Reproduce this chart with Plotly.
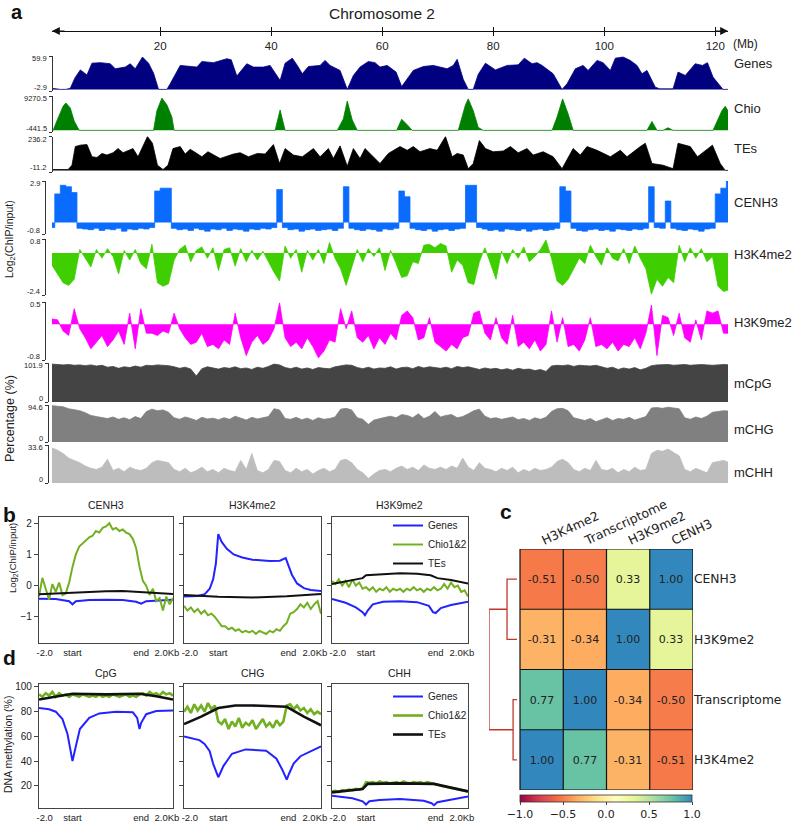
import numpy as np
import plotly.graph_objects as go

W, H = 796, 827
def fx(px): return px / W
def fy(py): return 1 - py / H

# ================= panel a : chromosome 2 tracks =================
genes_pos = [0.5, 1.2, 2.0, 3.0, 3.8, 4.6, 5.6, 6.8, 7.7, 9.2,
             11.0, 11.9, 13.7, 14.6, 15.5, 16.8, 17.9, 18.8, 19.7, 21.2,
             21.8, 23.6, 26.6, 27.5, 29.6, 32.0, 32.8, 33.8, 35.6, 36.8,
             38.6, 39.8, 41.6, 42.5, 43.8, 44.7, 45.6, 46.7, 48.8, 49.7,
             50.6, 52.4, 53.7, 54.8, 56.0, 57.5, 58.7, 59.6, 60.9, 62.5,
             63.5, 65.6, 67.4, 69.2, 71.7, 72.8, 73.5, 74.6, 75.5, 76.4,
             77.3, 78.6, 80.4, 82.5, 84.5, 85.6, 87.0, 87.9, 88.8, 90.8,
             92.4, 93.3, 94.8, 96.2, 97.1, 98.7, 99.8, 101.1, 102.0, 103.4,
             104.7, 105.9, 106.8, 107.7, 109.2, 110.0, 112.4, 113.3, 114.6, 116.4,
             117.7, 118.6, 119.6, 121.4, 122.3]
genes_val = [2, 1, 0, 0, 2, 20, 35, 26, 47, 48,
             46, 37, 40, 46, 37, 58, 47, 29, 0, 0,
             10, 43, 40, 50, 48, 55, 53, 24, 46, 40,
             40, 43, 16, 47, 56, 43, 28, 41, 43, 52,
             43, 34, 0, 25, 40, 50, 48, 40, 43, 31,
             5, 34, 41, 43, 37, 43, 54, 18, 0, 0,
             27, 47, 35, 43, 44, 56, 46, 48, 43, 28,
             0, 10, 37, 43, 34, 52, 48, 34, 56, 58,
             52, 43, 28, 34, 4, 1, 1, 31, 25, 46,
             43, 48, 22, 0, 0]

chio_pos = [0.5, 0.7, 1.5, 2.5, 3.0, 3.8, 4.5, 5.4,
            18.8, 19.4, 20.3, 21.2, 22.1, 22.5,
            40.7, 41.6, 42.5,
            51.9, 53.0, 53.7, 54.6, 55.5,
            62.6, 63.5, 64.5, 65.4,
            73.7, 75.0, 75.5, 76.4, 77.3, 78.2,
            90.6, 91.5, 92.5, 93.5, 94.4,
            107.7, 108.6, 109.5,
            110.6, 111.5, 112.4,
            119.6, 121.2, 121.8, 122.3]
chio_val = [0, 0, 3000, 6500, 7400, 6000, 2500, 0,
            0, 5300, 8700, 6900, 3600, 0,
            0, 5500, 0,
            0, 3100, 7900, 2800, 0,
            0, 3000, 1500, 0,
            0, 6900, 8500, 5300, 800, 0,
            0, 3600, 8500, 4400, 0,
            0, 2400, 0,
            0, 700, 0,
            0, 5300, 6500, 5300]

tes_pos = [0.5, 3.4, 4.1, 4.7, 5.6, 6.8, 7.7, 8.6, 9.5, 10.4,
           11.5, 12.4, 13.3, 15.1, 16.0, 17.7, 18.6, 19.5, 20.5, 21.4,
           22.3, 23.6, 24.5, 25.4, 26.6, 27.5, 28.6, 30.8, 33.2, 34.4,
           35.9, 37.5, 38.9, 40.4, 41.5, 42.5, 44.0, 45.6, 47.6, 48.8,
           50.3, 51.2, 52.4, 53.7, 54.8, 56.0, 56.9, 58.4, 59.6, 61.1,
           63.2, 64.5, 65.6, 66.8, 68.6, 69.9, 71.4, 72.6, 73.5, 74.6,
           75.5, 76.4, 77.5, 78.6, 80.0, 81.8, 83.1, 84.5, 86.1, 87.2,
           89.0, 90.8, 92.4, 94.4, 95.7, 96.9, 98.7, 101.1, 102.9, 104.1,
           105.2, 106.5, 107.4, 108.6, 110.6, 112.4, 113.3, 115.5, 116.8, 119.5,
           120.9, 121.8, 122.3]
tes_val = [6, 6, 36, 166, 176, 180, 95, 90, 118, 107,
           123, 152, 123, 152, 95, 236, 189, 36, 6, 36,
           152, 166, 114, 147, 118, 95, 130, 83, 114, 123,
           95, 118, 114, 180, 48, 152, 107, 95, 152, 95,
           152, 83, 171, 29, 152, 83, 152, 95, 48, 118,
           166, 140, 166, 130, 152, 140, 236, 95, 118, 107,
           12, 48, 208, 152, 130, 135, 166, 123, 152, 107,
           130, 95, 12, 152, 107, 166, 140, 95, 140, 95,
           130, 166, 189, 48, 36, 12, 189, 166, 95, 176,
           48, 0, 0]

bins_mb = np.arange(123) + 0.5          # 1-Mb bin centres

cenh3_val = [-0.35, 2.0, 2.6, 2.5, 2.1, -0.4, -0.45, -0.5, -0.4, -0.55,
             -0.45, -0.5, -0.4, -0.6, -0.45, -0.5, -0.4, -0.45, -0.35, 2.2,
             2.4, 2.4, -0.4, -0.5, -0.45, -0.55, -0.4, -0.5, -0.6, -0.45,
             -0.5, -0.4, -0.55, -0.45, -0.5, -0.6, -0.45, -0.5, -0.4, -0.45,
             -0.35, 2.3, -0.35, -0.5, -0.45, -0.6, -0.5, -0.45, -0.55, -0.5,
             -0.45, -0.55, -0.4, 2.5, -0.4, -0.5, -0.55, -0.45, -0.5, -0.6,
             -0.45, -0.5, -0.4, 2.2, 1.8, -0.4, -0.5, -0.55, -0.45, -0.6,
             -0.5, -0.45, -0.55, -0.45, -0.4, 2.6, 2.6, -0.35, -0.45, -0.55,
             -0.5, -0.6, -0.45, -0.5, -0.55, -0.45, -0.6, -0.5, -0.45, -0.55,
             -0.5, -0.4, 2.5, 2.2, -0.4, -0.55, -0.6, -0.5, -0.45, -0.55,
             -0.5, -0.6, -0.45, -0.5, -0.55, -0.45, -0.5, -0.4, 2.5, -0.35,
             -0.4, 1.5, -0.4, -0.5, -0.55, -0.45, -0.5, -0.6, -0.45, -0.4,
             2.0, 2.4, 2.9]

h3k4_val = [-0.7, -1.2, -1.7, -1.85, -1.5, 0.2, -0.3, -0.8, 0.2, -0.3,
            0.25, -0.2, -1.2, 0.15, -0.4, 0.2, -0.6, -0.9, 0.5, -1.7,
            -1.9, -1.75, -0.4, 0.2, 0.45, -0.5, 0.15, 0.35, -0.3, 0.3,
            -1.0, 0.2, 0.3, -0.75, 0.25, -0.5, 0.15, -0.4, 0.1, -0.5,
            -1.1, -1.6, 0.4, -0.3, 0.2, -1.1, 0.15, -0.4, 0.2, -0.6,
            0.6, -0.3, -0.9, -1.85, -0.8, 0.2, -0.5, 0.25, -0.2, 0.3,
            -1.0, 0.15, -0.6, -1.4, -1.3, -0.5, -0.6, 0.45, 0.5, 0.3,
            0.55, 0.4, -1.1, -0.4, -0.7, -1.7, -1.8, -0.5, 0.3, -0.6,
            -1.5, 0.1, -0.6, 0.2, -0.3, 0.35, -0.5, -0.2, 0.2, 0.75,
            -0.3, -1.6, -1.85, -1.5, -0.9, -0.3, -0.6, 0.45, -0.2, -0.7,
            0.3, -0.3, -0.45, 0.25, -0.6, 0.4, -0.3, -0.9, -2.35, -1.5,
            -1.9, -1.4, -1.7, 0.45, -0.5, 0.3, -0.3, 0.25, -0.5, -0.2,
            -1.9, -2.2, -2.1]

h3k9_val = [0.12, 0.1, -0.15, -0.25, 0.35, -0.1, -0.3, -0.55, -0.4, -0.25,
            -0.5, -0.35, -0.15, -0.45, 0.25, -0.55, 0.35, -0.2, -0.2, -0.25,
            -0.15, -0.2, 0.25, -0.1, -0.3, -0.45, -0.4, -0.2, -0.5, -0.45,
            -0.55, -0.35, -0.45, 0.25, -0.3, -0.7, -0.4, -0.25, -0.45, -0.35,
            -0.1, 0.48, -0.3, -0.5, -0.4, -0.55, -0.3, -0.5, -0.75, -0.6,
            -0.35, -0.4, 0.35, -0.1, 0.3, -0.3, -0.4, -0.25, -0.55, -0.3,
            -0.45, -0.2, -0.35, 0.2, 0.3, 0.15, -0.35, -0.3, 0.15, -0.4,
            -0.5, -0.6, -0.45, -0.55, -0.3, -0.25, 0.25, 0.3, -0.2, -0.35,
            0.15, -0.3, -0.45, 0.2, -0.5, -0.4, -0.55, -0.35, -0.6, -0.45,
            0.3, -0.4, 0.15, -0.5, -0.45, -0.6, -0.35, 0.15, -0.5, -0.45,
            -0.55, -0.4, -0.6, -0.45, -0.5, -0.3, -0.55, -0.2, 0.43, -0.7,
            0.2, 0.15, -0.25, 0.25, -0.3, -0.4, 0.1, -0.35, 0.3, 0.25,
            0.3, -0.2, -0.2]

mcpg_val = [99, 98, 97, 98, 96, 97, 95, 97, 94, 96,
            91, 93, 88, 92, 90, 94, 91, 96, 95, 97,
            96, 95, 92, 88, 91, 86, 68, 87, 92, 89,
            86, 90, 88, 92, 87, 89, 85, 91, 88, 93,
            99, 97, 90, 87, 91, 86, 89, 85, 90, 88,
            87, 92, 95, 97, 96, 90, 87, 91, 86, 89,
            88, 92, 86, 90, 91, 87, 93, 89, 92, 90,
            88, 91, 87, 93, 90, 92, 88, 85, 89, 86,
            88, 84, 87, 83, 88, 85, 86, 82, 85, 80,
            94, 96, 95, 97, 93, 96, 95, 94, 96, 93,
            88, 91, 85, 89, 86, 90, 84, 88, 95, 97,
            97, 98, 96, 97, 98, 96, 97, 98, 97, 96,
            97, 98, 97]

mchg_val = [93, 92, 90, 85, 82, 80, 75, 68, 65, 62,
            60, 64, 58, 62, 57, 65, 60, 78, 84, 80,
            82, 76, 62, 58, 64, 60, 55, 63, 59, 61,
            57, 62, 58, 66, 60, 56, 63, 59, 62, 65,
            85, 82, 60, 58, 63, 57, 61, 55, 62, 58,
            60, 64, 84, 86, 82, 62, 58, 45, 56, 60,
            63, 66, 62, 70, 68, 62, 72, 60, 66, 78,
            64, 68, 70, 62, 65, 72, 80, 84, 66, 60,
            62, 58, 61, 64, 57, 60, 55, 62, 58, 63,
            78, 85, 86, 80, 62, 58, 55, 60, 52, 57,
            62, 55, 60, 58, 63, 56, 60, 65, 87, 88,
            86, 89, 87, 85, 62, 58, 64, 60, 66, 76,
            78, 80, 79]

mchh_val = [31, 29, 26, 22, 20, 18, 15, 13, 12, 14,
            21, 11, 13, 10, 14, 12, 11, 13, 18, 20,
            19, 18, 12, 10, 13, 9, 11, 14, 10, 12,
            9, 13, 11, 10, 20, 12, 26, 11, 9, 12,
            20, 19, 11, 9, 13, 10, 12, 8, 11, 13,
            10, 12, 20, 21, 18, 12, 9, 4, 8, 11,
            12, 10, 13, 15, 12, 14, 11, 16, 13, 12,
            14, 12, 15, 13, 22, 14, 11, 18, 13, 12,
            10, 13, 11, 14, 9, 12, 10, 13, 11, 12,
            14, 19, 21, 18, 12, 10, 13, 11, 20, 12,
            11, 13, 9, 12, 10, 14, 11, 12, 26, 29,
            28, 30, 27, 24, 12, 10, 13, 11, 9, 18,
            19, 20, 18]

track_names = ["Genes", "Chio", "TEs", "CENH3", "H3K4me2", "H3K9me2", "mCpG", "mCHG", "mCHH"]
track_ranges = [(-2.9, 59.9), (-441.5, 9270.5), (-11.2, 236.2), (-0.8, 2.9), (-2.4, 0.8),
                (-0.8, 0.5), (0, 101.9), (0, 94.6), (0, 33.6)]
chrom_ticks = [20, 40, 60, 80, 100, 120]

# ================= panels b / d : metaplots =================
prof_grid = np.linspace(0, 4, 41)      # -2kb .. start .. end .. +2kb (scaled)
prof_tickvals = [0.17, 1.0, 3.05, 3.82]
prof_ticktext = ["-2.0", "start", "end", "2.0Kb"]

b_titles = ["CENH3", "H3K4me2", "H3K9me2"]
b_genes_x = [[0, 0.5, 0.9, 1.0, 1.1, 1.5, 2.0, 2.5, 2.9, 3.05, 3.2, 3.6, 4.0],
             [0, 0.4, 0.6, 0.75, 0.85, 0.93, 1.0, 1.1, 1.25, 1.45, 1.7, 2.0, 2.5, 2.8, 2.97, 3.05, 3.15, 3.3, 3.5, 3.7, 4.0],
             [0, 0.4, 0.7, 0.9, 0.97, 1.05, 1.2, 1.5, 2.0, 2.5, 2.85, 2.97, 3.05, 3.2, 3.5, 4.0]]
b_genes_y = [[-0.42, -0.43, -0.5, -0.6, -0.5, -0.46, -0.45, -0.46, -0.52, -0.58, -0.5, -0.47, -0.45],
             [-0.35, -0.33, -0.28, -0.1, 0.2, 0.7, 1.65, 1.4, 1.18, 1.0, 0.9, 0.83, 0.79, 0.8, 0.88, 0.65, 0.35, 0.07, -0.08, -0.14, -0.17],
             [-0.43, -0.55, -0.7, -0.85, -0.95, -0.8, -0.6, -0.52, -0.5, -0.53, -0.65, -0.85, -0.88, -0.72, -0.62, -0.52]]
b_tes_x = [[0, 1, 2, 2.5, 3, 4],
           [0, 1, 2, 3, 4],
           [0, 0.5, 0.9, 1.0, 1.5, 2.0, 2.5, 2.9, 3.1, 3.5, 4.0]]
b_tes_y = [[-0.28, -0.22, -0.18, -0.17, -0.2, -0.27],
           [-0.3, -0.36, -0.38, -0.34, -0.27],
           [0.05, 0.15, 0.24, 0.33, 0.37, 0.4, 0.38, 0.33, 0.24, 0.18, 0.07]]
b_chio = [[-0.35, 0.25, -0.1, -0.45, 0.05, -0.2, 0.1, -0.3, -0.25, 0.1,
           0.6, 1.0, 1.25, 1.35, 1.45, 1.55, 1.6, 1.75, 1.7, 1.85,
           1.9, 2.0, 1.8, 1.85, 1.75, 1.8, 1.7, 1.65, 1.5, 1.2,
           0.6, 0.15, 0.0, -0.3, -0.1, -0.5, -0.4, -0.8, -0.35, -0.6, -0.4],
          [-0.65, -0.8, -0.7, -0.85, -0.75, -0.9, -0.8, -0.95, -0.9, -1.0,
           -1.15, -1.3, -1.3, -1.4, -1.35, -1.45, -1.4, -1.5, -1.45, -1.5,
           -1.45, -1.55, -1.45, -1.5, -1.55, -1.45, -1.5, -1.4, -1.45, -1.3,
           -1.2, -0.9, -0.85, -0.75, -0.6, -0.7, -0.55, -0.75, -0.6, -0.5, -0.9],
          [0.15, 0.05, 0.2, 0.0, 0.15, -0.05, 0.2, 0.0, 0.1, -0.1,
           -0.05, -0.15, -0.05, -0.2, -0.1, -0.15, -0.05, -0.2, -0.1, -0.15,
           -0.1, -0.2, -0.1, -0.15, -0.05, -0.15, -0.1, -0.2, -0.1, -0.15,
           -0.05, -0.15, -0.1, 0.05, -0.1, 0.1, -0.05, 0.0, -0.2, -0.15, -0.35]]
b_range = [-1.84, 2.2]
b_ticks = [-1, 0, 1, 2]

d_titles = ["CpG", "CHG", "CHH"]
d_genes_x = [[0, 0.3, 0.5, 0.7, 0.85, 0.94, 1.0, 1.1, 1.22, 1.5, 1.8, 2.3, 2.8, 2.93, 3.0, 3.05, 3.2, 3.5, 4.0],
             [0, 0.45, 0.6, 0.75, 0.85, 0.95, 1.0, 1.07, 1.15, 1.4, 1.8, 2.4, 2.7, 2.87, 2.97, 3.0, 3.07, 3.2, 3.4, 4.0],
             [0, 0.6, 0.9, 1.0, 1.1, 1.4, 2.0, 2.7, 2.93, 3.0, 3.1, 3.4, 4.0]]
d_genes_y = [[83, 82, 80, 74, 62, 47, 40, 52, 66, 75, 78.6, 80, 79.5, 75, 66, 71, 78, 80.5, 81],
             [60, 57, 54, 48, 38, 30, 27, 31, 36, 46, 49.5, 48.5, 42, 33, 26, 25, 30, 38, 44, 52],
             [12, 10, 7.5, 4.9, 7.5, 8.6, 9.4, 8.0, 6.0, 4.4, 6.8, 8.5, 11.5]]
d_tes_x = [[0, 0.5, 1.0, 2.0, 3.0, 3.5, 4.0],
           [0, 0.5, 1.0, 1.5, 2.0, 2.5, 3.0, 3.5, 4.0],
           [0, 0.9, 1.05, 2.0, 3.0, 3.5, 4.0]]
d_tes_y = [[89.8, 92, 94.5, 94, 94.5, 92.5, 89.8],
           [70, 76, 83, 85, 85, 84.5, 84, 76, 69],
           [14.7, 17.4, 21.6, 22, 21.6, 18.5, 15.5]]
d_chio = [[94, 92, 95, 93, 96, 92, 95, 93, 94, 92,
           94, 93, 92, 94, 93, 92, 93, 92, 94, 92,
           93, 92, 94, 93, 92, 93, 94, 92, 93, 92,
           94, 95, 93, 96, 94, 95, 93, 96, 94, 95, 93],
          [80, 84, 79, 86, 81, 85, 80, 87, 82, 85,
           72, 70, 74, 66, 72, 68, 75, 67, 71, 69,
           73, 66, 70, 74, 68, 71, 67, 73, 69, 72,
           85, 86, 82, 85, 81, 83, 79, 82, 78, 80, 78],
          [15.5, 16, 15, 16.5, 16, 17, 16.5, 17.5, 17, 18,
           23, 22.5, 23, 22, 23.5, 22.5, 23, 22, 22.5, 23,
           22, 23.5, 22.5, 22, 23, 22.5, 23, 22, 23, 22.5,
           22, 21, 20, 19.5, 19, 18, 17.5, 17, 16.5, 16, 15.5]]
d_range = [2.1, 102.4]
d_ticks = [20, 40, 60, 80, 100]

# ================= panel c : correlation heatmap =================
hm_cols = ["H3K4me2", "Transcriptome", "H3K9me2", "CENH3"]
hm_rows = ["CENH3", "H3K9me2", "Transcriptome", "H3K4me2"]
hm_z = [[-0.51, -0.50, 0.33, 1.00],
        [-0.31, -0.34, 1.00, 0.33],
        [0.77, 1.00, -0.34, -0.50],
        [1.00, 0.77, -0.31, -0.51]]
# dendrogram: (row a, row b, link height) ; root joins the two pairs
dendro_pairs = [(0, 1, 0.30), (2, 3, 0.16)]
dendro_root_height = 0.717

spectral = [[0.0, '#9e0142'], [0.1111, '#d53e4f'], [0.2222, '#f46d43'], [0.3333, '#fdae61'],
            [0.4444, '#fee08b'], [0.5556, '#ffffbf'], [0.6667, '#e6f598'], [0.7778, '#abdda4'],
            [0.8889, '#66c2a5'], [1.0, '#3288bd']]

for lst in (b_chio + d_chio):
    assert len(lst) == len(prof_grid)
for a, b in zip(b_genes_x + d_genes_x + b_tes_x + d_tes_x, b_genes_y + d_genes_y + b_tes_y + d_tes_y):
    assert len(a) == len(b)
assert len(genes_pos) == len(genes_val) and len(chio_pos) == len(chio_val) and len(tes_pos) == len(tes_val)
for v in (cenh3_val, h3k4_val, h3k9_val, mcpg_val, mchg_val, mchh_val):
    assert len(v) == len(bins_mb)

# ================= build figure =================
AR = "Liberation Sans, Arial, sans-serif"
DJ = "DejaVu Sans, sans-serif"
TXT = "#222222"
fig = go.Figure()
layout = {}
annotations = []

def note(text, px, py, size, xanchor='center', yanchor='middle', angle=0, family=AR, color=TXT):
    annotations.append(dict(text=text, x=fx(px), y=fy(py), xref='paper', yref='paper',
                            xanchor=xanchor, yanchor=yanchor, textangle=angle, showarrow=False,
                            borderpad=0, font=dict(size=size, color=color, family=family)))

track_data = [(genes_pos, genes_val), (chio_pos, chio_val), (tes_pos, tes_val),
              (bins_mb, cenh3_val), (bins_mb, h3k4_val), (bins_mb, h3k9_val),
              (bins_mb, mcpg_val), (bins_mb, mchg_val), (bins_mb, mchh_val)]
track_colors = ["#000080", "#008000", "#000000", "#0a6cff", "#3fcf00", "#ff00ff",
                "#444444", "#808080", "#bdbdbd"]
track_shapes = ["linear", "linear", "linear", "hvh", "linear", "linear", "linear", "linear", "linear"]
track_px = [(56, 91), (96, 132), (136.5, 172), (181, 234), (239, 295), (302, 360),
            (363, 402), (405, 442), (445, 483)]
track_axis_x = [52, 52, 52, 45, 45, 45, 48, 48, 48]
track_label_y = [63, 108, 149, 203, 255, 323, 383, 429, 472]

def fmt(v):
    return str(int(v)) if float(v).is_integer() else str(v)

for k in range(9):
    yid = 'y' if k == 0 else f'y{k+1}'
    ykey = 'yaxis' if k == 0 else f'yaxis{k+1}'
    xs, ys = track_data[k]
    c = track_colors[k]
    fig.add_trace(go.Scatter(x=list(xs), y=ys, mode='lines',
                             line=dict(color=c, width=0.8, shape=track_shapes[k]),
                             fill='tozeroy', fillcolor=c, xaxis='x', yaxis=yid,
                             showlegend=False, hoverinfo='skip'))
    lo, hi = track_ranges[k]
    t, b = track_px[k]
    layout[ykey] = dict(domain=[fy(b), fy(t)], range=[lo, hi], anchor='free',
                        position=fx(track_axis_x[k]), tickvals=[lo, hi],
                        showticklabels=False, ticks='outside', ticklen=3,
                        tickcolor='#333', showline=True, linecolor='#333', linewidth=1,
                        showgrid=False, zeroline=False)
    note(fmt(hi), track_axis_x[k] - 4, t + 2.5, 7.5, xanchor='right')
    note(fmt(lo), track_axis_x[k] - 4, b - 4, 7.5, xanchor='right')
    note(track_names[k], 733, track_label_y[k], 13, xanchor='left')

layout['xaxis'] = dict(domain=[fx(52), fx(728)], range=[0.5, 122.3], anchor='free',
                       position=fy(31), side='bottom', showline=True, linecolor='#111',
                       linewidth=1.2, tickvals=chrom_ticks, ticks='outside', ticklen=4,
                       tickcolor='#111', showgrid=False, zeroline=False,
                       tickfont=dict(size=11.5, color=TXT, family=AR))
layout['xaxis2'] = dict(domain=[fx(52), fx(728)], range=[0.5, 122.3], anchor='free',
                        overlaying='x', position=fy(31), side='top', showline=False,
                        tickvals=chrom_ticks, ticks='outside', ticklen=4, tickcolor='#111',
                        showticklabels=False, showgrid=False, zeroline=False)
fig.add_trace(go.Scatter(x=[], y=[], xaxis='x2', yaxis='y', showlegend=False))

# arrowheads on chromosome axis
annotations.append(dict(x=122.3, y=fy(31), xref='x', yref='paper', ax=-14, ay=0, text='',
                        showarrow=True, arrowhead=2, arrowsize=1.3, arrowwidth=1.2, arrowcolor='#111'))
annotations.append(dict(x=0.5, y=fy(31), xref='x', yref='paper', ax=14, ay=0, text='',
                        showarrow=True, arrowhead=2, arrowsize=1.3, arrowwidth=1.2, arrowcolor='#111'))
note("(Mb)", 732, 44, 12, xanchor='left')
note("Chromosome 2", 382, 13, 15.5)
note("Log<sub>2</sub>(ChIP/input)", 10, 239, 10.5, angle=-90)
note("Percentage (%)", 10, 419, 12.5, angle=-90)

# ---------- panels b and d ----------
panel_x = [(39, 173), (184, 321), (332, 468)]
BLUE, GREEN, BLACK = "#2323ff", "#72b022", "#111111"

def add_profile_row(titles, gx, gy, chio, tx, ty, yrange, yticks, ypx, xid0, yid0, legname, title_y, wide):
    for i in range(3):
        xn, yn = xid0 + i, yid0 + i
        xid, yid = f'x{xn}', f'y{yn}'
        L, R = panel_x[i]
        show = (i == 2)
        gw = 2.6 if wide else 2.0
        fig.add_trace(go.Scatter(x=gx[i], y=gy[i], mode='lines', name='Genes',
                                 line=dict(color=BLUE, width=2.0), xaxis=xid, yaxis=yid,
                                 showlegend=show, legend=legname, hoverinfo='skip'))
        fig.add_trace(go.Scatter(x=prof_grid, y=chio[i], mode='lines', name='Chio1&amp;2',
                                 line=dict(color=GREEN, width=gw), xaxis=xid, yaxis=yid,
                                 showlegend=show, legend=legname, hoverinfo='skip'))
        fig.add_trace(go.Scatter(x=tx[i], y=ty[i], mode='lines', name='TEs',
                                 line=dict(color=BLACK, width=gw), xaxis=xid, yaxis=yid,
                                 showlegend=show, legend=legname, hoverinfo='skip'))
        layout[f'xaxis{xn}'] = dict(domain=[fx(L), fx(R)], range=[0, 4], anchor=yid,
                                    showline=True, mirror=True, linecolor='#444', linewidth=1.2,
                                    ticks='', tickvals=prof_tickvals, ticktext=prof_ticktext,
                                    showgrid=False, zeroline=False,
                                    tickfont=dict(size=9.5, color=TXT, family=AR))
        layout[f'yaxis{yn}'] = dict(domain=[fy(ypx[1]), fy(ypx[0])], range=yrange, anchor=xid,
                                    showline=True, mirror=True, linecolor='#444', linewidth=1.2,
                                    ticks='outside', ticklen=4, tickcolor='#444', tickvals=yticks,
                                    showticklabels=(i == 0), showgrid=False, zeroline=False,
                                    tickfont=dict(size=10, color=TXT, family=AR))
        note(titles[i], (L + R) / 2, title_y, 10.5)

add_profile_row(b_titles, b_genes_x, b_genes_y, b_chio, b_tes_x, b_tes_y, b_range, b_ticks,
                (517, 643), 3, 10, 'legend', 505, False)
add_profile_row(d_titles, d_genes_x, d_genes_y, d_chio, d_tes_x, d_tes_y, d_range, d_ticks,
                (684, 808), 6, 13, 'legend2', 673, True)

note("Log<sub>2</sub>(ChIP/input)", 13, 558, 9.5, angle=-90)
note("DNA methylation (%)", 8, 745, 10.5, angle=-90)

# ---------- panel c ----------
hm_text = [[f"{v:.2f}" for v in row] for row in hm_z]
fig.add_trace(go.Heatmap(z=hm_z, x=list(range(len(hm_cols))), y=list(range(len(hm_rows))),
                         text=hm_text, texttemplate="%{text}",
                         textfont=dict(size=11, color='#222', family=DJ),
                         colorscale=spectral, zmin=-1, zmax=1, xaxis='x9', yaxis='y16',
                         hoverinfo='skip',
                         colorbar=dict(orientation='h', x=fx(606), xanchor='center',
                                       y=fy(795), yanchor='top', len=172, lenmode='pixels',
                                       thickness=7, xpad=0, ypad=0, outlinewidth=0.8,
                                       outlinecolor='#333', tickvals=[-1, -0.5, 0, 0.5, 1],
                                       tickformat='.1f', ticks='outside', ticklen=3,
                                       tickfont=dict(size=11, color=TXT, family=DJ))))
nC, nR = len(hm_cols), len(hm_rows)
for j in range(nC + 1):
    fig.add_trace(go.Scatter(x=[j - 0.5, j - 0.5], y=[-0.5, nR - 0.5], mode='lines',
                             line=dict(color='#111', width=1.2), xaxis='x9', yaxis='y16',
                             showlegend=False, hoverinfo='skip'))
for i in range(nR + 1):
    fig.add_trace(go.Scatter(x=[-0.5, nC - 0.5], y=[i - 0.5, i - 0.5], mode='lines',
                             line=dict(color='#111', width=1.2), xaxis='x9', yaxis='y16',
                             showlegend=False, hoverinfo='skip'))
RED = "#c0392b"
leaf_end = -0.57
for a, b, h in dendro_pairs:
    fig.add_trace(go.Scatter(x=[leaf_end, -0.5 - h, -0.5 - h, leaf_end], y=[a, a, b, b],
                             mode='lines', line=dict(color=RED, width=1.3), xaxis='x9',
                             yaxis='y16', showlegend=False, hoverinfo='skip'))
(a1, b1, h1), (a2, b2, h2) = dendro_pairs
fig.add_trace(go.Scatter(x=[-0.5 - h1, -0.5 - dendro_root_height, -0.5 - dendro_root_height, -0.5 - h2],
                         y=[(a1 + b1) / 2, (a1 + b1) / 2, (a2 + b2) / 2, (a2 + b2) / 2],
                         mode='lines', line=dict(color=RED, width=1.3), xaxis='x9', yaxis='y16',
                         showlegend=False, hoverinfo='skip'))
layout['xaxis9'] = dict(domain=[fx(489), fx(693)], range=[-0.5 - dendro_root_height, nC - 0.5],
                        anchor='y16', side='top', tickvals=list(range(nC)), ticktext=hm_cols,
                        tickangle=-25, ticks='', showline=False, showgrid=False, zeroline=False,
                        automargin=False, tickfont=dict(size=12.5, color=TXT, family=DJ))
layout['yaxis16'] = dict(domain=[fy(790), fy(549)], range=[nR - 0.5, -0.5], anchor='x9',
                         side='right', tickvals=list(range(nR)), ticktext=hm_rows, ticks='',
                         showline=False, showgrid=False, zeroline=False, automargin=False,
                         tickfont=dict(size=12.3, color=TXT, family=DJ))

# panel letters
note("<b>a</b>", 17, 0, 20, yanchor='top', color='#111')
for letter, px, py in [("b", 9, 514), ("c", 506, 511), ("d", 9, 657)]:
    note(f"<b>{letter}</b>", px, py, 21, color='#111')

legend_style = dict(xanchor='left', yanchor='top', bgcolor='rgba(0,0,0,0)', borderwidth=0,
                    font=dict(size=10, color=TXT, family=AR), tracegroupgap=0,
                    itemwidth=30, traceorder='normal')
layout['legend'] = dict(x=fx(388), y=fy(511), **legend_style)
layout['legend2'] = dict(x=fx(388), y=fy(682), **legend_style)

fig.update_layout(width=W, height=H, margin=dict(l=0, r=0, t=0, b=0, autoexpand=False),
                  paper_bgcolor='white', plot_bgcolor='rgba(0,0,0,0)',
                  font=dict(family=AR, color=TXT), annotations=annotations, **layout)
fig.write_html("out.html", config={'displayModeBar': False},
               post_script="document.body.style.margin='0';document.body.style.padding='0';"
                           "document.body.style.overflow='hidden';")
